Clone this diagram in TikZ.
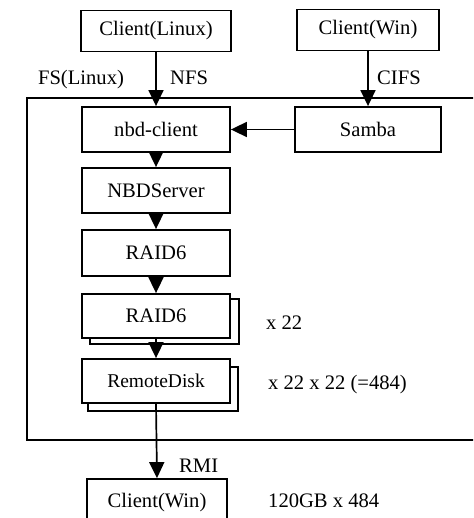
\documentclass[tikz,border=0pt]{standalone}
\usepackage{fontspec}
\setmainfont{Liberation Serif}
\usetikzlibrary{arrows.meta}
\begin{document}
\begin{tikzpicture}[x=1pt,y=-1pt,
  box/.style={draw,line width=1.8pt,fill=white,inner sep=0pt,font=\fontsize{20.6}{24}\selectfont},
  shadowbox/.style={draw,line width=1.8pt,fill=white},
  lbl/.style={inner sep=0pt,anchor=west,font=\fontsize{20.6}{24}\selectfont},
  conn/.style={line width=1.7pt,-{Triangle[width=15pt,length=16pt]}}]
\useasboundingbox (0,0) rectangle (473,518);
\clip (0,0) rectangle (473,518);
% frame
\draw[line width=1.8pt] (490,98) -- (27,98) -- (27,440) -- (490,440);
% shadows
\draw[shadowbox] (90,299) rectangle (239,344);
\draw[shadowbox] (88,367) rectangle (238,411);
% nodes
\node[box,minimum width=150pt,minimum height=41pt] (clinux) at (156,31) {Client(Linux)};
\node[box,minimum width=142pt,minimum height=41pt] (cwin) at (368,30) {Client(Win)};
\node[box,minimum width=148pt,minimum height=45pt] (nbd) at (156,129.5) {nbd-client};
\node[box,minimum width=146pt,minimum height=45pt] (samba) at (368,129.5) {Samba};
\node[box,minimum width=148pt,minimum height=45pt] (nbds) at (156,190.5) {\raisebox{-4pt}{NBDServer}};
\node[box,minimum width=148pt,minimum height=46pt] (raid1) at (156,253) {RAID6};
\node[box,minimum width=148pt,minimum height=44pt] (raid2) at (156,316) {RAID6};
\node[box,minimum width=148pt,minimum height=44pt,font=\fontsize{19.5}{23}\selectfont] (rd) at (156,381) {RemoteDisk};
\node[box,minimum width=140pt,minimum height=48pt] (cwin2) at (157,503) {Client(Win)};
% connectors
\draw[conn] (clinux.south) -- (nbd.north);
\draw[conn] (cwin.south) -- (samba.north);
\draw[conn] (samba.west) -- (nbd.east);
\draw[conn] (nbd.south) -- (nbds.north);
\draw[conn] (nbds.south) -- (raid1.north);
\draw[conn] (raid1.south) -- (raid2.north);
\draw[conn] (raid2.south) -- (rd.north);
\draw[conn] (rd.south) -- (cwin2.north);
% labels
\node[lbl,anchor=center] (fsl) at (81,80) {FS(Linux)};
\node[lbl] (nfs) at (170,78) {NFS};
\node[lbl] (cifs) at (377,78) {CIFS};
\node[lbl] (x22) at (266,323) {x 22};
\node[lbl] (x484) at (268,385) {x 22 x 22 (=484)};
\node[lbl] (rmi) at (179,466) {RMI};
\node[lbl] (gb) at (268,501) {120GB x 484};
\end{tikzpicture}
\end{document}
